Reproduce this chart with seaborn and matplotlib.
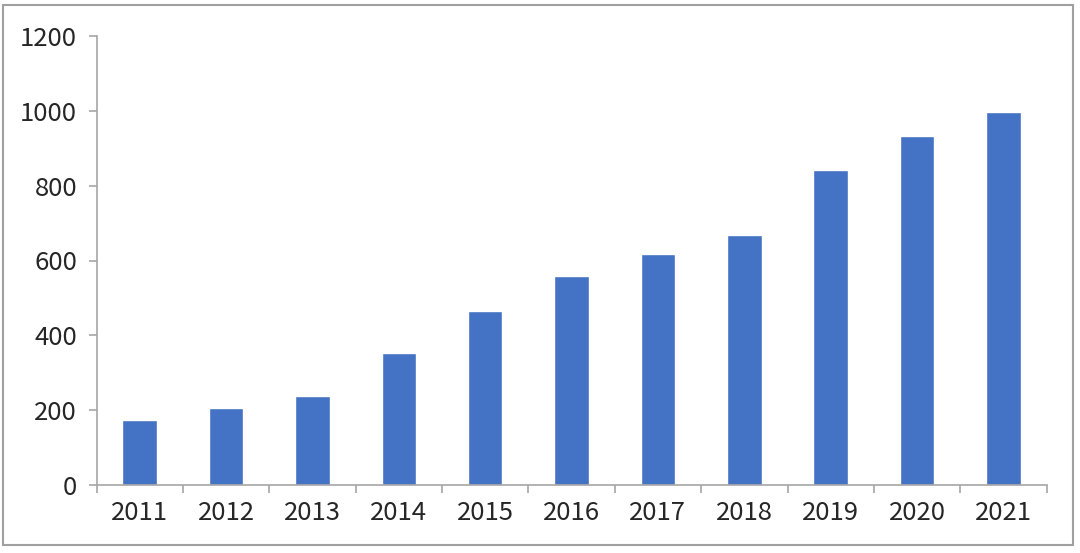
import matplotlib
matplotlib.use("Agg")
import matplotlib.pyplot as plt
import matplotlib.patches as mpatches
import seaborn as sns
import pandas as pd

# data
years = ['2011', '2012', '2013', '2014', '2015', '2016', '2017', '2018', '2019', '2020', '2021']
values = [174, 207, 239, 352, 465, 558, 618, 667, 841, 932, 996]
y_ticks = [0, 200, 400, 600, 800, 1000, 1200]

sns.set_theme(style='white')
plt.rcParams['font.family'] = ['Noto Sans CJK SC', 'DejaVu Sans']

df = pd.DataFrame({'year': years, 'value': values})

fig = plt.figure(figsize=(10.8, 5.53), dpi=100)
ax = fig.add_axes([96.5 / 1080, 1 - 485 / 553, (1046.7 - 96.5) / 1080, (485 - 36) / 553])

sns.barplot(data=df, x='year', y='value', color='#4472C4', saturation=1,
            width=0.40, ax=ax)

axis_col = '#a6a6a6'
ax.set_xlim(-0.5, len(years) - 0.5)
ax.set_ylim(0, 1200)
ax.set_yticks(y_ticks)
ax.set_yticklabels([str(t) for t in y_ticks])
ax.set_xlabel('')
ax.set_ylabel('')

for s in ['top', 'right']:
    ax.spines[s].set_visible(False)
for s in ['left', 'bottom']:
    ax.spines[s].set_color(axis_col)
    ax.spines[s].set_linewidth(1.2)

# x ticks sit between categories
ax.set_xticks([i - 0.5 for i in range(len(years) + 1)], minor=True)
ax.tick_params(axis='x', which='major', length=0, pad=11, labelsize=18.5, labelcolor='#262626')
ax.tick_params(axis='x', which='minor', bottom=True, length=6, width=1.2, color=axis_col)
ax.tick_params(axis='y', left=True, length=6, width=1.2, color=axis_col, pad=8,
               labelsize=18.5, labelcolor='#262626')

# outer chart frame
frame = mpatches.Rectangle((3 / 1080, 1 - 545 / 553), 1070 / 1080, 540 / 553,
                           transform=fig.transFigure, fill=False,
                           edgecolor='#a0a0a0', linewidth=1.5)
fig.patches.append(frame)

fig.savefig('out.png', dpi=100)
